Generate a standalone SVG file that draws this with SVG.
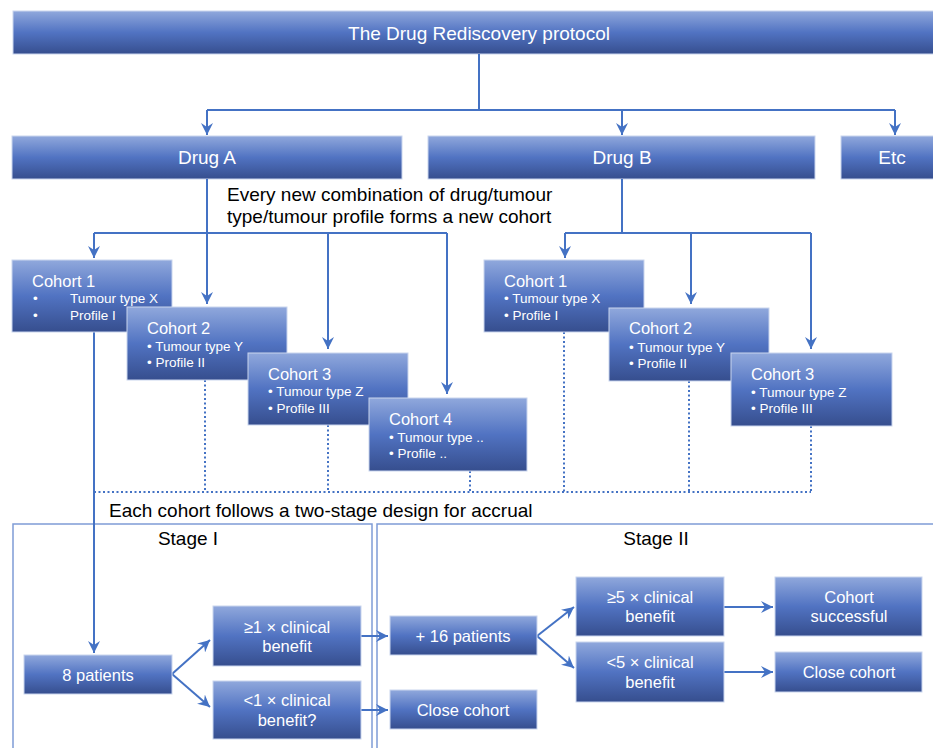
<svg xmlns="http://www.w3.org/2000/svg" width="933" height="748" viewBox="0 0 933 748">
<defs>
<linearGradient id="g" x1="0" y1="0" x2="0" y2="1">
<stop offset="0" stop-color="#90A8DC"/>
<stop offset="0.5" stop-color="#5173C2"/>
<stop offset="1" stop-color="#364E8E"/>
</linearGradient>
<marker id="ah" markerUnits="userSpaceOnUse" markerWidth="14" markerHeight="12" refX="12" refY="6" orient="auto">
<path d="M0,0 L12,6 L0,12 L4,6 z" fill="#4472C4"/>
</marker>
</defs>
<style>
.box{fill:url(#g);stroke:#C9D5EE;stroke-width:1}
.t{font-family:"Liberation Sans",Arial,sans-serif;fill:#fff;font-size:16.5px}
.tc{text-anchor:middle}
.big{font-size:19px}
.s{font-size:13.5px}
.k{font-family:"Liberation Sans",Arial,sans-serif;fill:#000;font-size:19px}
.c{fill:none;stroke:#4472C4;stroke-width:2}
.a{marker-end:url(#ah)}
.d{fill:none;stroke:#4472C4;stroke-width:2;stroke-dasharray:2 2.5}
.f{fill:none;stroke:#7F9CD6;stroke-width:1.5}
</style>
<rect width="933" height="748" fill="#fff"/>

<g id="frames">
<rect class="f" x="13" y="524" width="359" height="240"/>
<rect class="f" x="377" y="524" width="570" height="240"/>
</g>

<g id="title"><rect class="box" x="13" y="11" width="930" height="43"/><text class="t tc big" x="479" y="40" font-size="19.5">The Drug Rediscovery protocol</text></g>
<g id="drugA"><rect class="box" x="12" y="136" width="390" height="43"/><text class="t tc big" x="207" y="164">Drug A</text></g>
<g id="drugB"><rect class="box" x="428" y="136" width="387" height="43"/><text class="t tc big" x="622" y="164">Drug B</text></g>
<g id="etc"><rect class="box" x="841" y="136" width="102" height="43"/><text class="t tc big" x="892" y="164">Etc</text></g>

<g id="connectors">
<path class="c" d="M479,54 V110 M207,110 H895"/>
<path class="c a" d="M207,110 V135"/>
<path class="c a" d="M622,110 V135"/>
<path class="c a" d="M895,110 V135"/>
<path class="c" d="M94,233 H447"/>
<path class="c a" d="M207,179 V304"/>
<path class="c a" d="M94,233 V258"/>
<path class="c a" d="M328,233 V349"/>
<path class="c a" d="M447,233 V394"/>
<path class="c" d="M622,179 V233 M565,233 H811"/>
<path class="c a" d="M565,233 V258"/>
<path class="c a" d="M691,233 V304"/>
<path class="c a" d="M811,233 V349"/>
<path class="d" d="M205,380 V492 M328,425 V492 M470,471 V492 M564,332 V492 M689,381 V492 M811,426 V492 M94,492 H811"/>
<path class="c a" d="M94,332 V653"/>
<path class="c a" d="M172,674 L210,640"/>
<path class="c a" d="M172,674 L210,707"/>
<path class="c a" d="M361,636 H388"/>
<path class="c a" d="M361,710 H388"/>
<path class="c a" d="M537,636 L574,607"/>
<path class="c a" d="M537,636 L574,668"/>
<path class="c a" d="M724,607 H773"/>
<path class="c a" d="M724,672 H773"/>
</g>

<g id="labels">
<text class="k" x="227" y="201">Every new combination of drug/tumour</text>
<text class="k" x="227" y="223">type/tumour profile forms a new cohort</text>
<text class="k" x="109" y="517">Each cohort follows a two-stage design for accrual</text>
<text class="k tc" x="188" y="545">Stage I</text>
<text class="k tc" x="656" y="545">Stage II</text>
</g>

<g id="cohortA1"><rect class="box" x="12" y="260" width="160" height="72"/>
<text class="t" x="32" y="287">Cohort 1</text>
<text class="t s" x="33" y="303">•</text><text class="t s" x="70" y="303">Tumour type X</text>
<text class="t s" x="33" y="320">•</text><text class="t s" x="70" y="320">Profile I</text></g>
<g id="cohortA2"><rect class="box" x="127" y="307" width="160" height="73"/>
<text class="t" x="147" y="334">Cohort 2</text>
<text class="t s" x="147" y="351">• Tumour type Y</text>
<text class="t s" x="147" y="367">• Profile II</text></g>
<g id="cohortA3"><rect class="box" x="248" y="353" width="160" height="72"/>
<text class="t" x="268" y="380">Cohort 3</text>
<text class="t s" x="268" y="396">• Tumour type Z</text>
<text class="t s" x="268" y="413">• Profile III</text></g>
<g id="cohortA4"><rect class="box" x="369" y="398" width="158" height="73"/>
<text class="t" x="389" y="425">Cohort 4</text>
<text class="t s" x="389" y="442">• Tumour type ..</text>
<text class="t s" x="389" y="458">• Profile ..</text></g>

<g id="cohortB1"><rect class="box" x="484" y="260" width="160" height="72"/>
<text class="t" x="504" y="287">Cohort 1</text>
<text class="t s" x="504" y="303">• Tumour type X</text>
<text class="t s" x="504" y="320">• Profile I</text></g>
<g id="cohortB2"><rect class="box" x="609" y="308" width="160" height="73"/>
<text class="t" x="629" y="334">Cohort 2</text>
<text class="t s" x="629" y="352">• Tumour type Y</text>
<text class="t s" x="629" y="368">• Profile II</text></g>
<g id="cohortB3"><rect class="box" x="731" y="353" width="161" height="73"/>
<text class="t" x="751" y="380">Cohort 3</text>
<text class="t s" x="751" y="397">• Tumour type Z</text>
<text class="t s" x="751" y="413">• Profile III</text></g>

<g id="p8"><rect class="box" x="24" y="655" width="148" height="39"/><text class="t tc" x="98" y="681">8 patients</text></g>
<g id="ge1"><rect class="box" x="213" y="606" width="148" height="60"/><text class="t tc" x="287" y="633">≥1 × clinical</text><text class="t tc" x="287" y="652">benefit</text></g>
<g id="lt1"><rect class="box" x="213" y="681" width="148" height="58"/><text class="t tc" x="287" y="706">&lt;1 × clinical</text><text class="t tc" x="287" y="726">benefit?</text></g>
<g id="p16"><rect class="box" x="390" y="616" width="147" height="39"/><text class="t tc" x="463" y="642">+ 16 patients</text></g>
<g id="close1"><rect class="box" x="390" y="690" width="147" height="39"/><text class="t tc" x="463" y="716">Close cohort</text></g>
<g id="ge5"><rect class="box" x="576" y="577" width="148" height="59"/><text class="t tc" x="650" y="603">≥5 × clinical</text><text class="t tc" x="650" y="622">benefit</text></g>
<g id="lt5"><rect class="box" x="576" y="642" width="148" height="60"/><text class="t tc" x="650" y="668">&lt;5 × clinical</text><text class="t tc" x="650" y="688">benefit</text></g>
<g id="success"><rect class="box" x="775" y="577" width="147" height="59"/><text class="t tc" x="849" y="603">Cohort</text><text class="t tc" x="849" y="622">successful</text></g>
<g id="close2"><rect class="box" x="775" y="652" width="147" height="40"/><text class="t tc" x="849" y="678">Close cohort</text></g>
</svg>
